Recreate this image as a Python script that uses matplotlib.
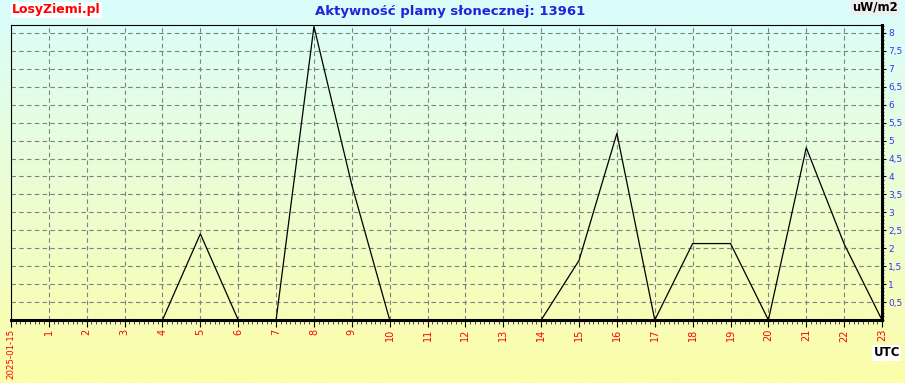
import numpy as np
import matplotlib
matplotlib.use("Agg")
import matplotlib.pyplot as plt
from matplotlib.ticker import MultipleLocator, FixedLocator

hours = list(range(24))
values = [0, 0, 0, 0, 0, 2.4, 0, 0, 8.18, 3.76, 0, 0, 0, 0, 0, 1.66, 5.2, 0, 2.13, 2.13, 0, 4.8, 2.12, 0]
x_labels = ["2025-01-15"] + [str(h) for h in range(1, 24)]
y_ticks = [0.5, 1, 1.5, 2, 2.5, 3, 3.5, 4, 4.5, 5, 5.5, 6, 6.5, 7, 7.5, 8]
y_labels = [("%g" % v).replace(".", ",") for v in y_ticks]

W, H = 905, 383
fig = plt.figure(figsize=(W / 100, H / 100), dpi=100)

# gradient background
bg = fig.add_axes([0, 0, 1, 1], zorder=-10)
top = np.array([218, 253, 253]) / 255
bot = np.array([253, 253, 168]) / 255
t = np.linspace(0, 1, 256)[:, None]
grad = top * (1 - t) + bot * t
bg.imshow(grad[:, None, :], aspect="auto", extent=[0, 1, 0, 1])
bg.axis("off")

L, R, T, B = 11, 882, 25, 320
ax = fig.add_axes([L / W, 1 - B / H, (R - L) / W, (B - T) / H])
ax.patch.set_alpha(0)
ax.plot(hours, values, color="black", lw=0.9)
ax.set_xlim(0, 23)
ax.set_ylim(0, 8.22)

ax.xaxis.set_major_locator(FixedLocator(hours))
ax.set_xticklabels(x_labels, rotation=90, color="red", fontsize=7)
ax.get_xticklabels()[0].set_fontsize(6.2)
ax.xaxis.set_minor_locator(MultipleLocator(1 / 8))
ax.tick_params(axis="x", which="major", length=5, width=0.8, direction="out", pad=1.5)
ax.tick_params(axis="x", which="minor", length=3, width=0.5, direction="out")

ax.yaxis.tick_right()
ax.set_yticks(y_ticks)
ax.set_yticklabels(y_labels, color="#3333ff", fontsize=6.5)
ax.yaxis.set_minor_locator(MultipleLocator(0.1))
ax.tick_params(axis="y", which="major", length=3, width=0.8, direction="out", pad=1.5)
ax.tick_params(axis="y", which="minor", length=1.5, width=0.5, direction="out")

ax.grid(True, which="major", color="#808080", linestyle=(0, (4, 3)), lw=0.8)
for s in ["left", "top"]:
    ax.spines[s].set_linewidth(0.8)
for s in ["right", "bottom"]:
    ax.spines[s].set_linewidth(2.2)

fig.text(12 / W, 1 - 10 / H, "LosyZiemi.pl", color="red", fontsize=9, fontweight="bold",
         va="center", ha="left", bbox=dict(facecolor="white", edgecolor="none", pad=1))
fig.text(450 / W, 1 - 12 / H, "Aktywność plamy słonecznej: 13961", color="#2222dd",
         fontsize=9.5, fontweight="bold", va="center", ha="center")
fig.text(898 / W, 1 - 7 / H, "uW/m2", color="black", fontsize=8.5, fontweight="bold",
         va="center", ha="right", bbox=dict(facecolor="#eeeeee", edgecolor="none", pad=1))
fig.text(900 / W, 1 - 353 / H, "UTC", color="black", fontsize=8.5, fontweight="bold",
         va="center", ha="right", bbox=dict(facecolor="white", edgecolor="none", pad=1))

fig.savefig("out.png", dpi=100)
